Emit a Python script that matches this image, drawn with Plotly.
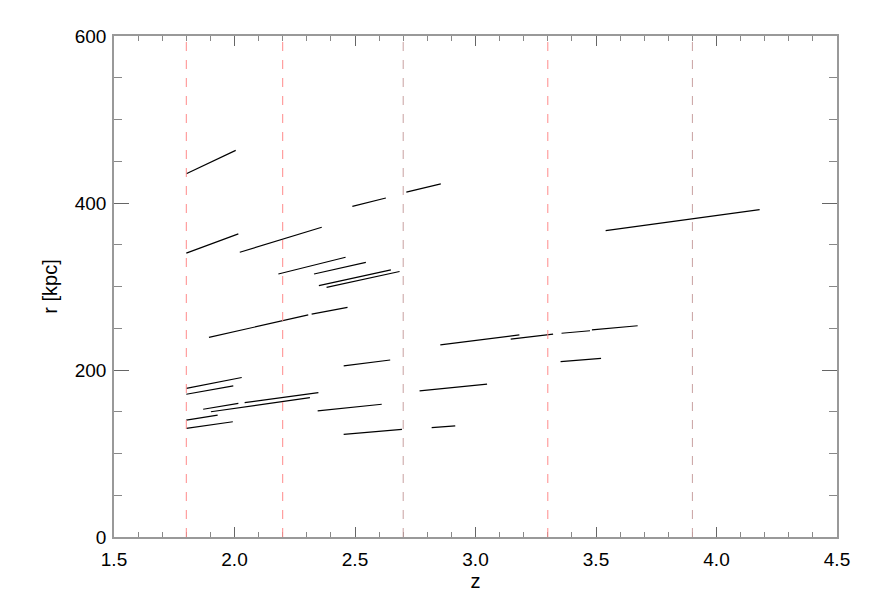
import plotly.graph_objects as go

# segment endpoints (z, r [kpc])
z_start = [1.800, 1.800, 2.022, 2.182, 2.330, 2.350, 2.382, 1.894, 2.320, 2.489,
           2.713, 3.540, 2.854, 3.146, 3.357, 3.483, 3.353, 2.453, 2.345, 2.453,
           2.768, 2.818, 1.800, 1.800, 1.870, 1.902, 2.042, 1.800, 1.800]
z_end = [2.005, 2.016, 2.362, 2.461, 2.545, 2.649, 2.685, 2.306, 2.469, 2.628,
         2.856, 4.179, 3.182, 3.322, 3.475, 3.673, 3.521, 2.646, 2.611, 2.695,
         3.048, 2.916, 2.030, 1.995, 2.016, 2.313, 2.348, 1.930, 1.993]
r_start = [435, 340, 341, 315, 315, 301, 299, 239, 267, 396,
           413, 367, 230, 237, 244, 248, 210, 205, 151, 123,
           175, 131, 178, 171, 153, 150, 161, 140, 130]
r_end = [463, 363, 371, 335, 329, 320, 318, 266, 275, 406,
         423, 392, 242, 243, 247, 253, 214, 212, 159, 129,
         183, 133, 191, 181, 160, 167, 173, 146, 138]

# redshift markers
z_marks = [1.8, 2.2, 2.7, 3.3, 3.9]
mark_colors = ["#ff8a8a", "#ff8a8a", "#c9a0a0", "#ff8a8a", "#c9a0a0"]

xs, ys = [], []
for z0, z1, r0, r1 in zip(z_start, z_end, r_start, r_end):
    xs += [z0, z1, None]
    ys += [r0, r1, None]

fig = go.Figure()
fig.add_trace(go.Scatter(x=xs, y=ys, mode="lines",
                         line=dict(color="black", width=1.2),
                         showlegend=False, hoverinfo="skip"))

for zm, c in zip(z_marks, mark_colors):
    fig.add_vline(x=zm, line_width=1, line_dash="dash", line_color=c)

font = dict(family="Liberation Sans, Arial, sans-serif", size=19, color="black")

# page body adds 8px, so margins are offset to put the frame at 114..837 / 36..537
fig.update_layout(
    width=872, height=610,
    margin=dict(l=106, r=43, t=28, b=81),
    plot_bgcolor="white", paper_bgcolor="white",
    font=font,
)
fig.update_xaxes(
    range=[1.5, 4.5], tickvals=[1.5, 2.0, 2.5, 3.0, 3.5, 4.0, 4.5],
    ticktext=["1.5", "2.0", "2.5", "3.0", "3.5", "4.0", "4.5"],
    ticks="inside", ticklen=10, tickcolor="#666", showgrid=False, zeroline=False,
    showline=True, linecolor="#999", linewidth=1.5, mirror="allticks",
    minor=dict(dtick=0.1, tick0=1.5, ticks="inside", ticklen=5, tickcolor="#888", showgrid=False),
    ticklabelstandoff=4, automargin=False,
    title=dict(text="z", standoff=4, font=dict(size=20)),
)
fig.update_yaxes(
    range=[0, 600], tickvals=[0, 200, 400, 600],
    ticks="inside", ticklen=15, tickcolor="#666", showgrid=False, zeroline=False,
    showline=True, linecolor="#999", linewidth=1.5, mirror="allticks",
    minor=dict(dtick=50, tick0=0, ticks="inside", ticklen=8, tickcolor="#888", showgrid=False),
    ticklabelstandoff=2, automargin=False,
    title=dict(text="r [kpc]", standoff=12, font=dict(size=20)),
)

fig.write_html("out.html")
